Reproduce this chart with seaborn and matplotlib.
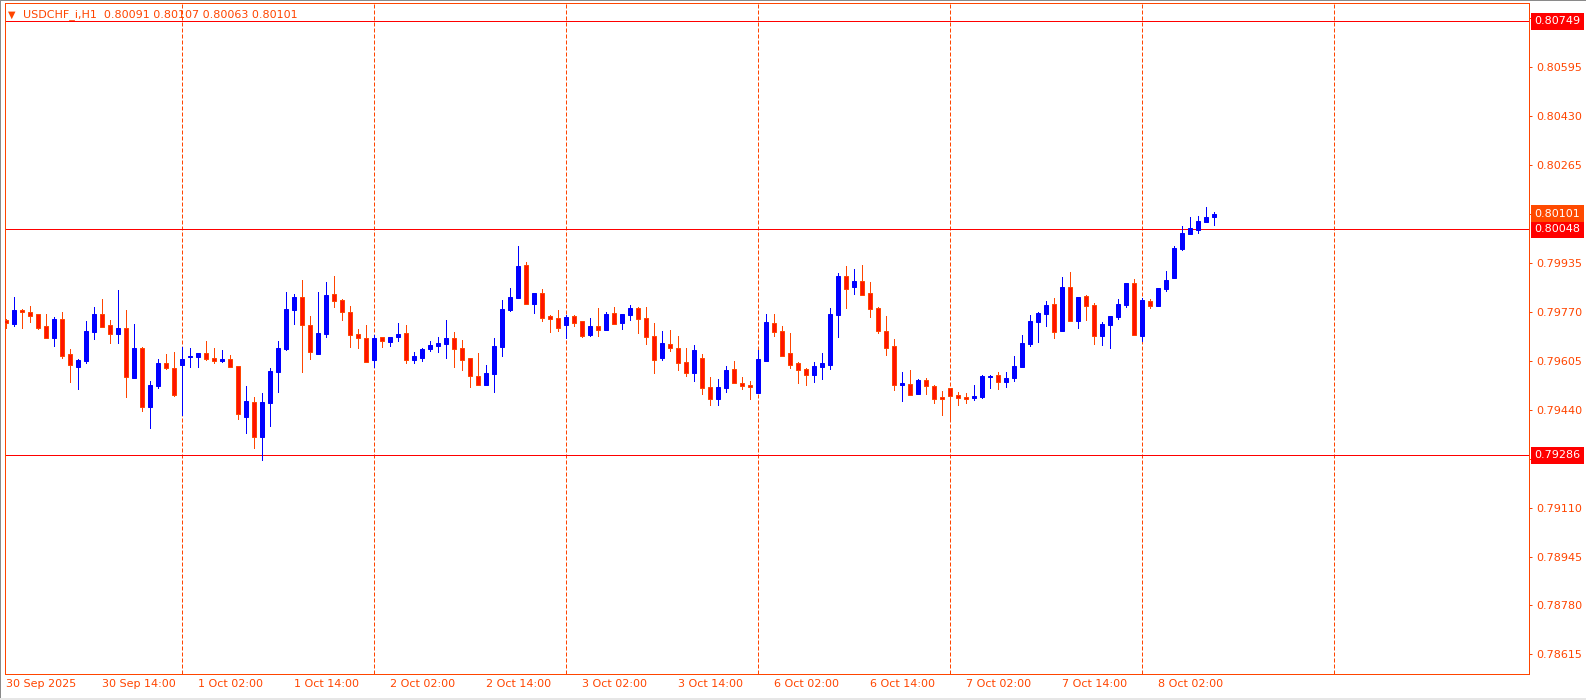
import matplotlib
matplotlib.use("Agg")
import matplotlib.pyplot as plt
import seaborn as sns
import numpy as np
import pandas as pd
from matplotlib.patches import Rectangle

# USDCHF_i H1 candles, 30 Sep 02:00 .. 8 Oct 09:00 (trading hours only)
opens = [
    0.79742, 0.79730, 0.79777, 0.79769, 0.79762, 0.79722, 0.79683, 0.79746, 0.79628, 0.79583,
    0.79605, 0.79703, 0.79762, 0.79725, 0.79696, 0.79715, 0.79548, 0.79648, 0.79450, 0.79521,
    0.79599, 0.79580, 0.79592, 0.79619, 0.79619, 0.79631, 0.79614, 0.79605, 0.79610, 0.79587,
    0.79416, 0.79465, 0.79349, 0.79463, 0.79568, 0.79646, 0.79777, 0.79820, 0.79724, 0.79629,
    0.79696, 0.79830, 0.79810, 0.79769, 0.79695, 0.79681, 0.79608, 0.79685, 0.79668, 0.79685,
    0.79698, 0.79608, 0.79615, 0.79644, 0.79656, 0.79662, 0.79681, 0.79648, 0.79614, 0.79553,
    0.79524, 0.79560, 0.79651, 0.79776, 0.79816, 0.79928, 0.79797, 0.79833, 0.79756, 0.79749,
    0.79725, 0.79756, 0.79739, 0.79692, 0.79722, 0.79708, 0.79766, 0.79733, 0.79759, 0.79783,
    0.79749, 0.79688, 0.79614, 0.79661, 0.79648, 0.79601, 0.79563, 0.79614, 0.79516, 0.79477,
    0.79513, 0.79577, 0.79530, 0.79523, 0.79496, 0.79604, 0.79732, 0.79705, 0.79631, 0.79597,
    0.79577, 0.79557, 0.79583, 0.79590, 0.79759, 0.79891, 0.79853, 0.79874, 0.79833, 0.79783,
    0.79705, 0.79654, 0.79523, 0.79526, 0.79493, 0.79540, 0.79520, 0.79483, 0.79513, 0.79489,
    0.79483, 0.79480, 0.79483, 0.79551, 0.79557, 0.79533, 0.79548, 0.79585, 0.79661, 0.79737,
    0.79764, 0.79796, 0.79706, 0.79853, 0.79740, 0.79823, 0.79793, 0.79689, 0.79726, 0.79753,
    0.79793, 0.79867, 0.79689, 0.79806, 0.79791, 0.79847, 0.79884, 0.79982, 0.80033, 0.80047,
    0.80073, 0.80091,
]
highs = [
    0.79747, 0.79820, 0.79780, 0.79789, 0.79763, 0.79762, 0.79752, 0.79769, 0.79644, 0.79611,
    0.79739, 0.79786, 0.79813, 0.79742, 0.79843, 0.79776, 0.79729, 0.79652, 0.79536, 0.79611,
    0.79628, 0.79634, 0.79650, 0.79648, 0.79632, 0.79671, 0.79648, 0.79641, 0.79624, 0.79588,
    0.79520, 0.79483, 0.79496, 0.79580, 0.79671, 0.79837, 0.79830, 0.79877, 0.79756, 0.79837,
    0.79870, 0.79891, 0.79813, 0.79789, 0.79712, 0.79725, 0.79692, 0.79686, 0.79686, 0.79732,
    0.79725, 0.79634, 0.79648, 0.79671, 0.79686, 0.79742, 0.79702, 0.79675, 0.79615, 0.79631,
    0.79590, 0.79681, 0.79810, 0.79850, 0.79992, 0.79938, 0.79834, 0.79847, 0.79759, 0.79776,
    0.79759, 0.79759, 0.79740, 0.79749, 0.79783, 0.79769, 0.79786, 0.79763, 0.79793, 0.79786,
    0.79786, 0.79732, 0.79705, 0.79708, 0.79688, 0.79648, 0.79658, 0.79628, 0.79550, 0.79543,
    0.79587, 0.79604, 0.79550, 0.79536, 0.79641, 0.79762, 0.79762, 0.79722, 0.79698, 0.79601,
    0.79580, 0.79601, 0.79631, 0.79783, 0.79901, 0.79924, 0.79914, 0.79928, 0.79870, 0.79786,
    0.79756, 0.79678, 0.79567, 0.79574, 0.79543, 0.79547, 0.79523, 0.79503, 0.79514, 0.79499,
    0.79496, 0.79523, 0.79557, 0.79557, 0.79567, 0.79567, 0.79621, 0.79692, 0.79759, 0.79769,
    0.79806, 0.79816, 0.79887, 0.79904, 0.79821, 0.79826, 0.79800, 0.79735, 0.79757, 0.79813,
    0.79868, 0.79880, 0.79816, 0.79813, 0.79851, 0.79907, 0.79992, 0.80059, 0.80090, 0.80093,
    0.80123, 0.80107,
]
lows = [
    0.79717, 0.79723, 0.79716, 0.79737, 0.79712, 0.79682, 0.79656, 0.79615, 0.79534, 0.79511,
    0.79598, 0.79679, 0.79719, 0.79666, 0.79666, 0.79484, 0.79547, 0.79436, 0.79379, 0.79514,
    0.79578, 0.79487, 0.79423, 0.79585, 0.79585, 0.79607, 0.79598, 0.79602, 0.79583, 0.79409,
    0.79362, 0.79312, 0.79270, 0.79386, 0.79499, 0.79641, 0.79729, 0.79567, 0.79611, 0.79628,
    0.79686, 0.79786, 0.79742, 0.79652, 0.79648, 0.79601, 0.79583, 0.79651, 0.79654, 0.79671,
    0.79597, 0.79597, 0.79605, 0.79638, 0.79634, 0.79614, 0.79583, 0.79574, 0.79516, 0.79523,
    0.79523, 0.79499, 0.79621, 0.79773, 0.79815, 0.79796, 0.79766, 0.79740, 0.79702, 0.79705,
    0.79681, 0.79722, 0.79685, 0.79688, 0.79688, 0.79707, 0.79728, 0.79712, 0.79742, 0.79698,
    0.79661, 0.79563, 0.79607, 0.79638, 0.79574, 0.79553, 0.79536, 0.79493, 0.79456, 0.79456,
    0.79499, 0.79529, 0.79510, 0.79476, 0.79495, 0.79603, 0.79688, 0.79620, 0.79580, 0.79530,
    0.79523, 0.79533, 0.79543, 0.79577, 0.79685, 0.79783, 0.79830, 0.79826, 0.79752, 0.79698,
    0.79624, 0.79506, 0.79469, 0.79489, 0.79492, 0.79493, 0.79462, 0.79422, 0.79402, 0.79456,
    0.79462, 0.79472, 0.79479, 0.79513, 0.79510, 0.79516, 0.79538, 0.79584, 0.79656, 0.79669,
    0.79723, 0.79683, 0.79705, 0.79739, 0.79716, 0.79743, 0.79662, 0.79659, 0.79649, 0.79747,
    0.79787, 0.79692, 0.79672, 0.79784, 0.79790, 0.79840, 0.79883, 0.79978, 0.80032, 0.80037,
    0.80072, 0.80063,
]
closes = [
    0.79731, 0.79776, 0.79771, 0.79757, 0.79716, 0.79683, 0.79746, 0.79622, 0.79592, 0.79607,
    0.79705, 0.79762, 0.79720, 0.79696, 0.79715, 0.79549, 0.79648, 0.79450, 0.79523, 0.79597,
    0.79579, 0.79488, 0.79611, 0.79621, 0.79631, 0.79611, 0.79603, 0.79611, 0.79585, 0.79424,
    0.79468, 0.79349, 0.79465, 0.79570, 0.79648, 0.79779, 0.79820, 0.79726, 0.79635, 0.79698,
    0.79826, 0.79807, 0.79768, 0.79693, 0.79683, 0.79602, 0.79681, 0.79672, 0.79685, 0.79695,
    0.79608, 0.79621, 0.79644, 0.79658, 0.79665, 0.79681, 0.79646, 0.79608, 0.79554, 0.79524,
    0.79563, 0.79654, 0.79779, 0.79820, 0.79924, 0.79797, 0.79833, 0.79750, 0.79747, 0.79716,
    0.79752, 0.79733, 0.79688, 0.79722, 0.79710, 0.79762, 0.79729, 0.79762, 0.79783, 0.79746,
    0.79685, 0.79608, 0.79665, 0.79649, 0.79598, 0.79565, 0.79641, 0.79514, 0.79477, 0.79516,
    0.79574, 0.79530, 0.79521, 0.79517, 0.79611, 0.79735, 0.79703, 0.79622, 0.79590, 0.79575,
    0.79557, 0.79587, 0.79597, 0.79762, 0.79891, 0.79848, 0.79874, 0.79828, 0.79779, 0.79706,
    0.79649, 0.79523, 0.79530, 0.79490, 0.79540, 0.79521, 0.79477, 0.79476, 0.79487, 0.79480,
    0.79476, 0.79486, 0.79553, 0.79554, 0.79534, 0.79547, 0.79587, 0.79665, 0.79739, 0.79766,
    0.79793, 0.79703, 0.79853, 0.79740, 0.79820, 0.79791, 0.79689, 0.79729, 0.79756, 0.79796,
    0.79867, 0.79693, 0.79810, 0.79791, 0.79850, 0.79877, 0.79985, 0.80036, 0.80052, 0.80076,
    0.80090, 0.80101,
]

time_labels = ["30 Sep 2025", "30 Sep 14:00", "1 Oct 02:00", "1 Oct 14:00", "2 Oct 02:00",
               "2 Oct 14:00", "3 Oct 02:00", "3 Oct 14:00", "6 Oct 02:00", "6 Oct 14:00",
               "7 Oct 02:00", "7 Oct 14:00", "8 Oct 02:00"]
label_bars = [0, 12, 24, 36, 48, 60, 72, 84, 96, 108, 120, 132, 144]
day_breaks = [22, 46, 70, 94, 118, 142, 166]

# scale ticks; 0.80100 and 0.79275 sit under the price boxes, so no label
price_ticks = [0.80760, 0.80595, 0.80430, 0.80265, 0.80100, 0.79935, 0.79770,
               0.79605, 0.79440, 0.79275, 0.79110, 0.78945, 0.78780, 0.78615]
hidden_ticks = [0.80100, 0.79275]
levels = [0.80749, 0.80048, 0.79286]

ORANGE = "#FF4500"
BULL = "#0000FF"
BEAR_FILL = "#FF1400"
LEVEL = "#FF0000"
PX = 0.72  # one pixel in points at 100 dpi

df = pd.DataFrame({"open": opens, "high": highs, "low": lows, "close": closes})
df["bar"] = np.arange(len(df))
df["bull"] = df["close"] >= df["open"]

sns.set_style("white")
plt.rcParams["font.family"] = ["DejaVu Sans"]

fig = plt.figure(figsize=(15.86, 7.0), dpi=100)
ax = fig.add_axes([4.7 / 1586, 26.3 / 700, 1524.6 / 1586, 670.4 / 700])

# day separators
for b in day_breaks:
    ax.axvline(b, color=ORANGE, lw=PX, linestyle=(0, (4, 2)), zorder=1)

# horizontal levels
for lv in levels:
    ax.axhline(lv, color=LEVEL, lw=PX, zorder=1.5)

# wicks
wick_colors = np.where(df["bull"], BULL, ORANGE)
ax.vlines(df["bar"], df["low"], df["high"], colors=wick_colors, lw=PX,
          zorder=2, antialiased=False)

# bodies
body_bottom = np.minimum(df["open"], df["close"])
body_height = np.abs(df["close"] - df["open"])
fills = np.where(df["bull"], BULL, BEAR_FILL)
edges = np.where(df["bull"], BULL, ORANGE)
ax.bar(df["bar"], body_height, bottom=body_bottom, width=0.5, color=fills,
       edgecolor=edges, linewidth=PX, zorder=3)

ax.set_xlim(-0.16, 190.4)
ax.set_ylim(0.78550, 0.80810)

for side in ["left", "right", "top", "bottom"]:
    ax.spines[side].set_color(ORANGE)
    ax.spines[side].set_linewidth(PX)

ax.yaxis.tick_right()
ax.set_yticks(price_ticks)
ax.set_yticklabels(["" if p in hidden_ticks else f"{p:.5f}" for p in price_ticks])
ax.tick_params(axis="y", direction="out", length=2.2, width=PX, color=ORANGE,
               labelcolor=ORANGE, labelsize=8, pad=3)

ax.set_xticks(label_bars)
ax.set_xticklabels(time_labels, ha="left")
ax.tick_params(axis="x", direction="out", length=2, width=PX, color=ORANGE,
               labelcolor=ORANGE, labelsize=8, pad=1.5)
for lab in ax.get_xticklabels():
    lab.set_horizontalalignment("left")

ax.set_xlabel("")
ax.set_ylabel("")

# price boxes on the right scale
ytrans = ax.get_yaxis_transform()
for lv in levels:
    ax.text(1.0035, lv, f"{lv:.5f}", transform=ytrans, ha="left", va="center",
            color="white", fontsize=8, zorder=6, clip_on=False,
            bbox=dict(boxstyle="square,pad=0.32", fc=LEVEL, ec="none"))
bid = closes[-1]
ax.text(1.0035, bid, f"{bid:.5f}", transform=ytrans, ha="left", va="center",
        color="white", fontsize=8, zorder=6, clip_on=False,
        bbox=dict(boxstyle="square,pad=0.32", fc="#FF4A00", ec="none"))

# header
fig.text(8 / 1586, 1 - 14.3 / 700, "\u25BC", color=ORANGE, fontsize=7, va="center", ha="left")
fig.text(23 / 1586, 1 - 14.3 / 700,
         f"USDCHF_i,H1  {opens[-1]:.5f} {highs[-1]:.5f} {lows[-1]:.5f} {closes[-1]:.5f}",
         color=ORANGE, fontsize=8, va="center", ha="left")

# window borders
fig.add_artist(Rectangle((0, 0), 1.3 / 1586, 1, transform=fig.transFigure,
                         color="#8A8A8A", lw=0))
fig.add_artist(Rectangle((0, 1 - 1.2 / 700), 1, 1.2 / 700, transform=fig.transFigure,
                         color="#8A8A8A", lw=0))
fig.add_artist(Rectangle((0, 0), 1, 2.3 / 700, transform=fig.transFigure,
                         color="#E6E6E6", lw=0))

fig.savefig("out.png", dpi=100)
